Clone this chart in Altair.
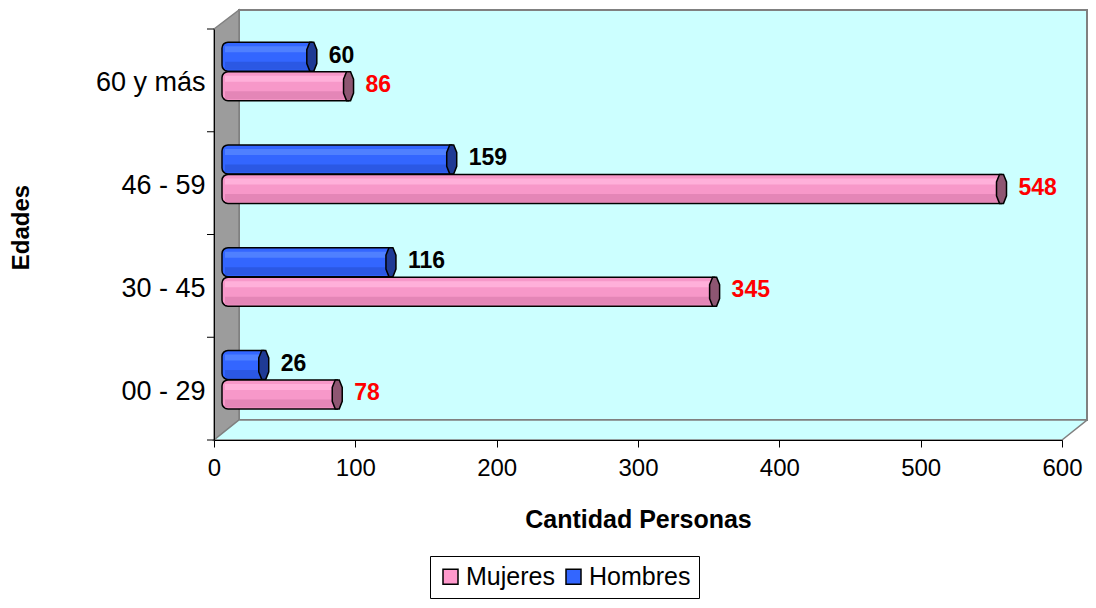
import altair as alt
import pandas as pd

# ---- data ----
categories = ["00 - 29", "30 - 45", "46 - 59", "60 y más"]
mujeres = [78, 345, 548, 86]
hombres = [26, 116, 159, 60]
series = ["Mujeres", "Hombres"]
x_ticks = [0, 100, 200, 300, 400, 500, 600]
y_order = ["60 y más", "46 - 59", "30 - 45", "00 - 29"]

rows = []
for c, m, h in zip(categories, mujeres, hombres):
    rows.append({"edad": c, "serie": "Mujeres", "valor": m})
    rows.append({"edad": c, "serie": "Hombres", "valor": h})
df = pd.DataFrame(rows)
one = pd.DataFrame({"valor": [0]})
ticks_df = pd.DataFrame({"edad": y_order})

W, H = 848, 411
FONT = "Liberation Sans"

xscale = alt.Scale(domain=[0, 600], nice=False, zero=True)
yscale = alt.Scale(domain=y_order, paddingInner=0, paddingOuter=0)

xax = alt.Axis(values=x_ticks, title="Cantidad Personas", titleFont=FONT,
               titleFontSize=25, titleFontWeight="bold", titleColor="black",
               titleX=W / 2, titleY=79, titleBaseline="middle", titleAlign="center",
               labelFont=FONT, labelFontSize=24, labelColor="black",
               labelPadding=9, tickSize=7, tickColor="black", domainColor="black",
               grid=False, zindex=1, labelFlush=False)
yax = alt.Axis(title="Edades", titleFont=FONT, titleFontSize=24,
               titleFontWeight="bold", titleColor="black", titleAngle=270,
               titleX=-193, titleY=198, titleAlign="center", titleBaseline="middle",
               labelFont=FONT, labelFontSize=27, labelColor="black",
               labelPadding=9, labelOffset=3, ticks=False, domainColor="black",
               grid=False, zindex=1, labelLimit=300)

enc_x = alt.X("valor:Q", scale=xscale, axis=xax)
enc_y = alt.Y("edad:N", scale=yscale, axis=yax, sort=y_order)


def shape_layer(path, fill, stroke, sw):
    return alt.Chart(one).mark_point(
        shape=path, size=4, filled=True, fill=fill, stroke=stroke,
        strokeWidth=sw, opacity=1, fillOpacity=1, strokeOpacity=1
    ).encode(x=enc_x, y=alt.value(0))


back = shape_layer("M25,-19 L873,-19 L873,391 L25,391 Z", "#ccffff", "#808080", 2)
side = shape_layer("M0,0 L25,-19 L25,391 L0,411 Z", "#9c9c9c", "#808080", 1.5)
floor = shape_layer("M0,411 L25,391 L873,391 L848,411 Z", "#ccffff", "#808080", 1.5)

ytick = alt.Chart(ticks_df).mark_rule(color="black", strokeWidth=1).encode(
    y=alt.Y("edad:N", scale=yscale, axis=yax, sort=y_order, bandPosition=0),
    x=alt.value(-7), x2=alt.value(0))
ytick_last = alt.Chart(one).mark_rule(color="black", strokeWidth=1).encode(
    y=alt.value(H), x=alt.value(-7), x2=alt.value(0))

legend_layer = alt.Chart(df).mark_square(size=0, opacity=1, filled=True).encode(
    x=enc_x, y=enc_y,
    color=alt.Color("serie:N",
                    scale=alt.Scale(domain=series, range=["#ff99cc", "#3366ff"]),
                    legend=alt.Legend(
                        title=None, orient="none", legendX=216, legendY=527,
                        direction="horizontal", symbolType="square", symbolSize=225,
                        symbolStrokeColor="black", symbolStrokeWidth=1.5, symbolOpacity=1,
                        labelFont=FONT, labelFontSize=25, labelColor="black",
                        labelOffset=3, columnPadding=6,
                        strokeColor="black", fillColor="white", padding=8)))

CAP = "M-2,-14.5 L2,-14.5 L5,-7 L5,7 L2,14.5 L-2,14.5 L-5,7 L-5,-7 Z"


def series_layers(serie, base, light, dark, cap_color, label_color, yoff, label_dy):
    sub = alt.Chart(df).transform_filter(alt.datum.serie == serie)
    body = sub.mark_bar(
        height=29, yOffset=yoff, xOffset=13, x2Offset=8, fill=base,
        stroke="black", strokeWidth=1.5, cornerRadiusTopLeft=6,
        cornerRadiusBottomLeft=6
    ).encode(x=enc_x, x2=alt.datum(0), y=enc_y)
    hi = sub.mark_bar(
        height=6, yOffset=yoff - 7.5, xOffset=13, x2Offset=11, fill=light,
        strokeWidth=0
    ).encode(x=enc_x, x2=alt.datum(0), y=enc_y)
    lo = sub.mark_bar(
        height=8, yOffset=yoff + 9, xOffset=13, x2Offset=11, fill=dark,
        strokeWidth=0
    ).encode(x=enc_x, x2=alt.datum(0), y=enc_y)
    cap = sub.mark_point(
        shape=CAP, size=4, filled=True, fill=cap_color, stroke="black",
        strokeWidth=1.5, opacity=1, fillOpacity=1, xOffset=13, yOffset=yoff
    ).encode(x=enc_x, y=enc_y)
    lab = sub.mark_text(
        align="left", baseline="middle", dx=30, dy=label_dy, font=FONT,
        fontSize=23, fontWeight="bold", color=label_color
    ).encode(x=enc_x, y=enc_y, text="valor:Q")
    return [body, hi, lo, cap, lab]


h_layers = series_layers("Hombres", "#3366ff", "#4f80ff", "#2b58e4", "#1f3a94",
                         "black", -23.75, -24.75)
m_layers = series_layers("Mujeres", "#f798c9", "#ffb0da", "#e486b7", "#8e5672",
                         "#ff0000", 5.75, 4.5)

chart = alt.layer(
    back, side, floor, ytick, ytick_last, legend_layer, *h_layers, *m_layers
).properties(
    width=W, height=H,
    autosize=alt.AutoSizeParams(type="none"),
    padding={"left": 206, "top": 21, "right": 26, "bottom": 160},
    background="white",
).configure_view(stroke=None).configure(font=FONT)

chart.save("out.html", embed_options={"renderer": "svg", "actions": False})
